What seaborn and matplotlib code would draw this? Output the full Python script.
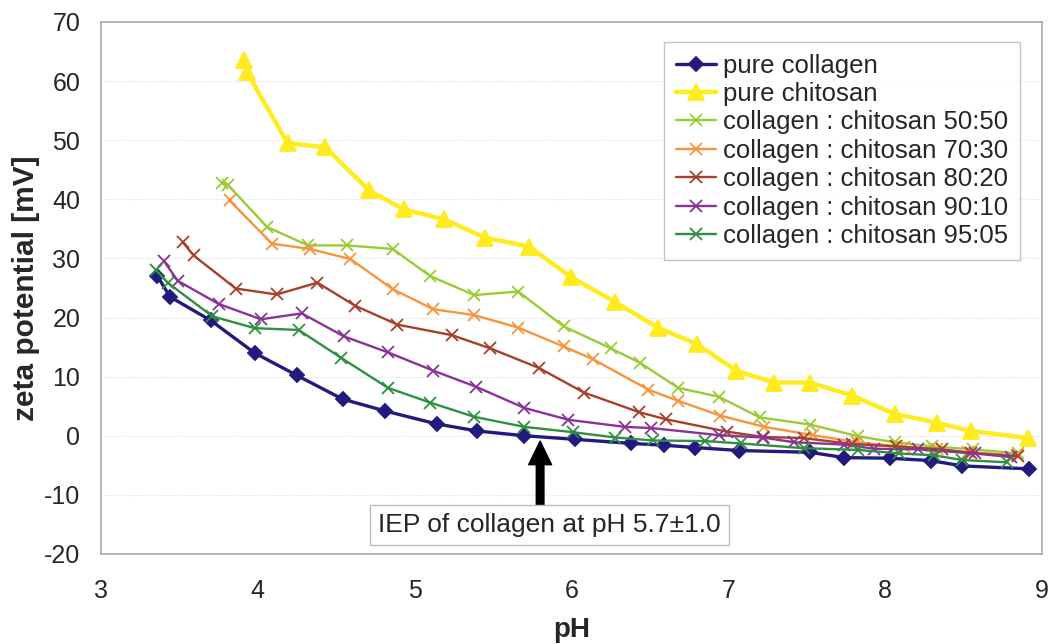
import numpy as np
import pandas as pd
import seaborn as sns
import matplotlib.pyplot as plt

# values (pH, zeta potential in mV)
ph_collagen = [3.36, 3.44, 3.70, 3.98, 4.25, 4.54, 4.81, 5.14, 5.40, 5.70, 6.02,
               6.38, 6.59, 6.79, 7.07, 7.52, 7.74, 8.03, 8.29, 8.49, 8.92]
zp_collagen = [27.0, 23.5, 19.5, 14.0, 10.2, 6.2, 4.2, 2.0, 0.8, 0.0, -0.6,
               -1.3, -1.6, -2.0, -2.5, -2.8, -3.7, -3.8, -4.2, -5.1, -5.6]

ph_chitosan = [3.91, 3.93, 4.19, 4.43, 4.71, 4.93, 5.19, 5.45, 5.73, 6.00, 6.28,
               6.55, 6.80, 7.05, 7.29, 7.52, 7.79, 8.06, 8.33, 8.55, 8.91]
zp_chitosan = [63.5, 61.5, 49.5, 48.8, 41.5, 38.3, 36.6, 33.5, 32.0, 26.8, 22.6,
               18.3, 15.5, 11.0, 9.0, 9.0, 6.8, 3.7, 2.2, 0.8, -0.4]

ph_50 = [3.77, 3.81, 4.06, 4.32, 4.57, 4.86, 5.10, 5.38, 5.66, 5.95, 6.25,
         6.44, 6.68, 6.94, 7.20, 7.52, 7.83, 8.06, 8.30, 8.56, 8.85]
zp_50 = [42.8, 42.4, 35.3, 32.2, 32.2, 31.6, 27.0, 23.8, 24.4, 18.5, 14.8,
         12.3, 8.1, 6.6, 3.1, 1.9, -0.1, -1.1, -1.8, -2.3, -3.0]

ph_70 = [3.82, 4.09, 4.33, 4.59, 4.86, 5.12, 5.38, 5.66, 5.95, 6.14, 6.49,
         6.68, 6.95, 7.23, 7.54, 7.82, 8.12, 8.33, 8.53, 8.84]
zp_70 = [39.8, 32.5, 31.6, 29.9, 24.8, 21.4, 20.4, 18.3, 15.1, 12.9, 7.8,
         5.9, 3.4, 1.5, 0.1, -1.1, -1.9, -2.3, -2.8, -3.3]

ph_80 = [3.52, 3.59, 3.86, 4.12, 4.38, 4.62, 4.89, 5.24, 5.48, 5.79, 6.08,
         6.43, 6.60, 6.99, 7.22, 7.48, 7.79, 8.07, 8.36, 8.55, 8.85]
zp_80 = [32.8, 30.5, 24.9, 23.9, 25.9, 22.0, 18.8, 17.0, 14.8, 11.5, 7.3,
         4.0, 2.8, 0.7, -0.2, -0.4, -1.4, -1.8, -2.3, -2.9, -3.5]

ph_90 = [3.40, 3.49, 3.75, 4.02, 4.28, 4.55, 4.83, 5.12, 5.39, 5.70, 5.98,
         6.34, 6.51, 6.94, 7.22, 7.42, 7.74, 7.93, 8.21, 8.57, 8.80]
zp_90 = [29.6, 26.2, 22.3, 19.7, 20.7, 16.8, 14.1, 11.0, 8.3, 4.7, 2.7,
         1.5, 1.3, 0.1, -0.3, -1.1, -1.5, -2.2, -2.3, -3.0, -3.6]

ph_95 = [3.35, 3.43, 3.71, 3.98, 4.26, 4.53, 4.83, 5.10, 5.38, 5.70, 6.01,
         6.28, 6.52, 6.85, 7.08, 7.48, 7.83, 8.09, 8.31, 8.49, 8.78]
zp_95 = [28.0, 25.8, 20.2, 18.2, 17.9, 13.2, 8.1, 5.6, 3.2, 1.5, 0.6,
         -0.3, -0.8, -0.9, -1.3, -2.1, -2.4, -3.0, -3.3, -4.1, -4.5]

labels = ['pure collagen', 'pure chitosan',
          'collagen : chitosan 50:50', 'collagen : chitosan 70:30',
          'collagen : chitosan 80:20', 'collagen : chitosan 90:10',
          'collagen : chitosan 95:05']
ph_all = [ph_collagen, ph_chitosan, ph_50, ph_70, ph_80, ph_90, ph_95]
zp_all = [zp_collagen, zp_chitosan, zp_50, zp_70, zp_80, zp_90, zp_95]

colors = ['#221a7e', '#ffeb1e', '#99cc33', '#f7943c', '#a6402a', '#8a3397', '#2f9040']
markers = ['D', '^', 'x', 'x', 'x', 'x', 'x']
msizes = [7, 11, 8, 8, 8, 8, 8]
lwidths = [2.4, 3.2, 1.7, 1.7, 1.7, 1.7, 1.7]

df = pd.concat([pd.DataFrame({'pH': p, 'zeta': z, 'sample': lab})
                for p, z, lab in zip(ph_all, zp_all, labels)], ignore_index=True)

sns.set_style('white')
plt.rcParams['font.family'] = ['Liberation Sans', 'DejaVu Sans']
plt.rcParams['axes.unicode_minus'] = False

fig = plt.figure(figsize=(10.51, 6.44), dpi=100)
ax = fig.add_axes([0.0961, 0.1398, 0.8953, 0.8261])

for lab, col, mk, ms, lw in zip(labels, colors, markers, msizes, lwidths):
    sub = df[df['sample'] == lab]
    sns.lineplot(data=sub, x='pH', y='zeta', ax=ax, color=col, marker=mk,
                 markersize=ms, linewidth=lw, markeredgewidth=1.3,
                 markeredgecolor=col, label=lab, estimator=None, sort=False)

ax.set_xlim(3, 9)
ax.set_ylim(-20, 70)
ax.set_xticks(range(3, 10))
ax.set_yticks(range(-20, 80, 10))
ax.yaxis.grid(True, linestyle=':', color='#d8d8d8', linewidth=0.8)
ax.xaxis.grid(False)
for s in ax.spines.values():
    s.set_color('#a3abab')
    s.set_linewidth(1.2)
ax.tick_params(axis='both', which='both', direction='out', length=5,
               color='#a3abab', labelsize=18)
ax.tick_params(axis='x', pad=13)
ax.tick_params(axis='y', pad=10)
ax.set_xlabel('pH', fontsize=20, fontweight='bold', labelpad=10)
ax.set_ylabel('zeta potential [mV]', fontsize=21.5, fontweight='bold', labelpad=3)

leg = ax.legend(loc='upper right', bbox_to_anchor=(0.9766, 0.962), borderaxespad=0,
                fontsize=18.5, handlelength=1.55, labelspacing=0.17, fancybox=False,
                frameon=True, borderpad=0.45, handletextpad=0.3)
leg.get_frame().set_edgecolor('#b5b5b5')
leg.get_frame().set_linewidth(1.0)

# IEP arrow and label
ax.annotate('', xy=(5.8, -0.9), xytext=(5.8, -11.7),
            arrowprops=dict(facecolor='black', edgecolor='black', width=5.5,
                            headwidth=16.5, headlength=17, shrink=0))
ax.text(5.86, -15.1, 'IEP of collagen at pH 5.7\u00b11.0', ha='center', va='center',
        fontsize=19, bbox=dict(boxstyle='square,pad=0.3', fc='white', ec='#c8b8b8'))

fig.savefig('out.png', dpi=100)
